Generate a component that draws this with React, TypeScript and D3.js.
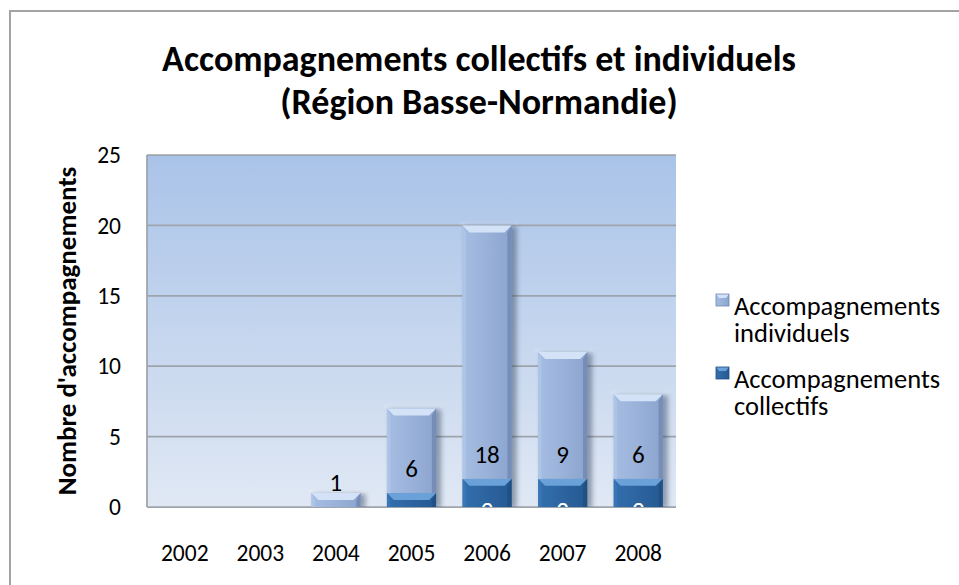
import React from 'react';
import * as d3 from 'd3';

const years = ['2002', '2003', '2004', '2005', '2006', '2007', '2008'];
const collectifs = [0, 0, 0, 1, 2, 2, 2];
const individuels = [0, 0, 1, 6, 18, 9, 6];
const yTicks = [0, 5, 10, 15, 20, 25];
const titleLines = ['Accompagnements collectifs et individuels', '(Région Basse-Normandie)'];
const yTitle = "Nombre d'accompagnements";
const legendItems = [
  { key: 'individuels', lines: ['Accompagnements', 'individuels'] },
  { key: 'collectifs', lines: ['Accompagnements', 'collectifs'] },
];

const FONT = 'Carlito, Calibri, Lato, sans-serif';

const palettes: Record<string, any> = {
  individuels: {
    body: 'gInd', top: '#d3e2f6', left: '#b3c9ea', right: '#7188b0', label: '#000',
  },
  collectifs: {
    body: 'gCol', top: '#6aa1d8', left: '#3f7cbb', right: '#1f4f82', label: '#fff',
  },
};

function Segment({ x0, w, yTop, yBot, pal }: any) {
  const h = yBot - yTop;
  if (h <= 0) return null;
  const b = Math.min(7, h / 2);
  const x1 = x0 + w;
  return (
    <g>
      <rect x={x0} y={yTop} width={w} height={h} fill={`url(#${pal.body})`} />
      <polygon points={`${x0},${yTop} ${x0 + b * 0.5},${yTop + b} ${x0 + b * 0.5},${yBot} ${x0},${yBot}`} fill={pal.left} opacity={0.6} />
      <polygon points={`${x1},${yTop} ${x1 - b * 0.6},${yTop + b} ${x1 - b * 0.6},${yBot} ${x1},${yBot}`} fill={pal.right} opacity={0.8} />
      <polygon points={`${x0},${yTop} ${x1},${yTop} ${x1 - b},${yTop + b} ${x0 + b},${yTop + b}`} fill={pal.top} />
    </g>
  );
}

export default function App() {
  const W = 959;
  const H = 585;
  const plot = { l: 147, r: 676, t: 155, b: 507 };

  const x = d3.scaleBand<string>().domain(years).range([plot.l, plot.r]).paddingInner(0.35).paddingOuter(0.175);
  const y = d3.scaleLinear().domain([0, 25]).range([plot.b, plot.t]);

  const rows = years.map((yr, i) => ({ year: yr, collectifs: collectifs[i], individuels: individuels[i] }));
  const stacked = d3.stack<any>().keys(['collectifs', 'individuels'])(rows);
  const bw = x.bandwidth();

  return (
    <svg width={W} height={H} style={{ position: 'absolute', left: 0, top: 0, background: '#fff' }} fontFamily={FONT}>
      <defs>
        <linearGradient id="bg" x1="0" y1="0" x2="0" y2="1">
          <stop offset="0" stopColor="#a9c3e8" />
          <stop offset="1" stopColor="#e0e8f4" />
        </linearGradient>
        <linearGradient id="gInd" x1="0" y1="0" x2="1" y2="0">
          <stop offset="0" stopColor="#a5bde2" />
          <stop offset="0.5" stopColor="#9ab2d9" />
          <stop offset="1" stopColor="#8ba4ce" />
        </linearGradient>
        <linearGradient id="gCol" x1="0" y1="0" x2="1" y2="0">
          <stop offset="0" stopColor="#336fae" />
          <stop offset="0.5" stopColor="#2c64a0" />
          <stop offset="1" stopColor="#255a92" />
        </linearGradient>
        <filter id="shadow" x="-30%" y="-30%" width="160%" height="160%">
          <feGaussianBlur stdDeviation="2.5" />
        </filter>
        <clipPath id="plotClip">
          <rect x={plot.l} y={plot.t} width={plot.r - plot.l} height={plot.b - plot.t} />
        </clipPath>
      </defs>

      {/* outer chart border */}
      <rect x={10} y={11} width={1000} height={700} fill="none" stroke="#a3a3a3" strokeWidth={2} />

      {/* title */}
      {titleLines.map((t, i) => (
        <text key={t} x={479} y={71 + i * 43} textAnchor="middle" fontSize={36} fontWeight="bold" fill="#000">{t}</text>
      ))}

      {/* plot background */}
      <rect x={plot.l} y={plot.t} width={plot.r - plot.l} height={plot.b - plot.t} fill="url(#bg)" />

      {/* gridlines */}
      {yTicks.map((t) => (
        <line key={t} x1={plot.l} x2={plot.r} y1={y(t)} y2={y(t)} stroke="#9ea4ab" strokeWidth={1.75} />
      ))}
      <line x1={plot.l} x2={plot.l} y1={plot.t} y2={plot.b} stroke="#9ea4ab" strokeWidth={1.75} />

      {/* bar shadows */}
      <g clipPath="url(#plotClip)">
        {rows.map((r) => {
          const total = r.collectifs + r.individuels;
          if (total <= 0) return null;
          const x0 = x(r.year)!;
          return (
            <rect key={r.year} x={x0 + 3} y={y(total) + 1} width={bw + 2} height={y(0) - y(total)} fill="#2b3d5a" opacity={0.45} filter="url(#shadow)" />
          );
        })}
        {rows.map((r) => {
          const total = r.collectifs + r.individuels;
          if (total <= 0) return null;
          const x0 = x(r.year)!;
          return <rect key={'g' + r.year} x={x0 - 3} y={y(total) - 4} width={bw + 10} height={4} fill="#ffffff" opacity={0.12} />;
        })}
      </g>

      {/* bars */}
      {stacked.map((s) => (
        <g key={s.key}>
          {s.map((d: any) => (
            <Segment key={d.data.year} x0={x(d.data.year)} w={bw} yTop={y(d[1])} yBot={y(d[0])} pal={palettes[s.key]} />
          ))}
        </g>
      ))}

      {/* data labels: individuels */}
      {stacked[1].map((d: any) =>
        d.data.individuels > 0 ? (
          <text key={'li' + d.data.year} x={x(d.data.year)! + bw / 2} y={y(d[0]) - 16} textAnchor="middle" fontSize={25} fill="#000">
            {d.data.individuels}
          </text>
        ) : null
      )}
      {/* data labels: collectifs (clipped at the floor) */}
      <g clipPath="url(#plotClip)">
        {stacked[0].map((d: any) =>
          y(d[0]) - y(d[1]) >= 20 ? (
            <text key={'lc' + d.data.year} x={x(d.data.year)! + bw / 2} y={y(d[0]) + 12} textAnchor="middle" fontSize={25} fill="#fff">
              {d.data.collectifs}
            </text>
          ) : null
        )}
      </g>

      {/* y ticks */}
      {yTicks.map((t) => (
        <text key={'yt' + t} x={121} y={y(t)} dy="0.35em" textAnchor="end" fontSize={23.5} fill="#000">{t}</text>
      ))}
      {/* x ticks */}
      {years.map((yr) => (
        <text key={'xt' + yr} x={x(yr)! + bw / 2} y={553} dy="0.35em" textAnchor="middle" fontSize={23.5} fill="#000">{yr}</text>
      ))}

      {/* y title */}
      <text transform={`translate(76,${(plot.t + plot.b) / 2}) rotate(-90)`} textAnchor="middle" fontSize={27} fontWeight="bold" fill="#000">{yTitle}</text>

      {/* legend */}
      {legendItems.map((it, i) => {
        const pal = palettes[it.key];
        const top = 294 + i * 73;
        return (
          <g key={it.key}>
            <rect x={716} y={top} width={13} height={12} fill={`url(#${pal.body})`} />
            <polygon points={`716,${top} 729,${top} 726,${top + 4} 719,${top + 4}`} fill={pal.top} />
            <rect x={716} y={top} width={13} height={12} fill="none" stroke={pal.right} strokeWidth={0.8} />
            {it.lines.map((ln, j) => (
              <text key={ln} x={734} y={top + 21 + j * 27} fontSize={26.5} fill="#000">{ln}</text>
            ))}
          </g>
        );
      })}
    </svg>
  );
}
